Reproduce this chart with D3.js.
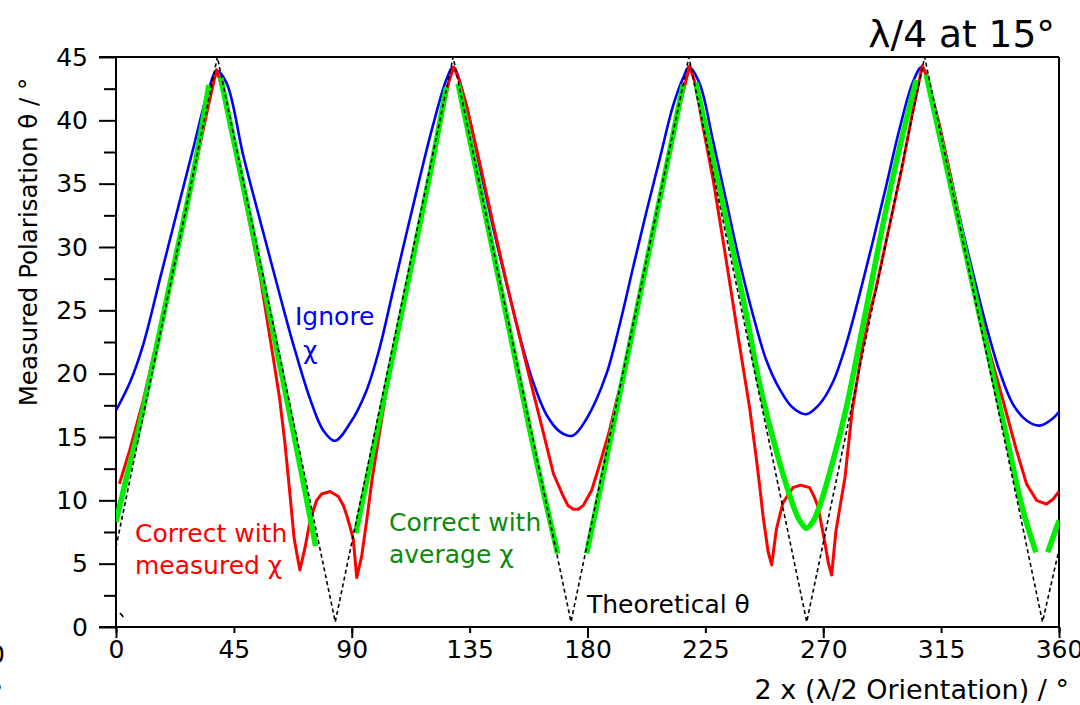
<!DOCTYPE html>
<html>
<head>
<meta charset="utf-8">
<script src="https://cdn.jsdelivr.net/npm/d3@7"></script>
<style>
  html, body { margin: 0; padding: 0; background: #fff; }
  svg { display: block; font-family: "DejaVu Sans", sans-serif; }
</style>
</head>
<body>
<svg id="chart" width="1080" height="705"></svg>
<script>
// ---------------- data ----------------
const xMajorTicks = [0, 90, 180, 270, 360];
const xLabelTicks = [0, 45, 90, 135, 180, 225, 270, 315, 360];
const yMajorTicks = [0, 5, 10, 15, 20, 25, 30, 35, 40, 45];
const yMinorTicks = [2.5, 7.5, 12.5, 17.5, 22.5, 27.5, 32.5, 37.5, 42.5];

// Theoretical θ (dashed black)
const theoretical = [[0,6.3],[38.7,45],[83.7,0.4],[128.7,45],[173.7,0.4],[218.7,45],[263.7,0.4],[308.7,45],[353.7,0.4],[360,6.1]];
const theoreticalStub = [[1.5,1.1],[2.8,0.8]];

// Ignore χ (blue)
const ignoreChi = [[0,17.1],[5.3,19.3],[10.4,22.3],[16.8,27.5],[23.2,32.7],[29.5,37.8],[35.3,42.4],[38.5,43.9],[42.3,42.9],[48.6,37.2],[55,32.1],[61.4,27.1],[67.7,22.3],[74.1,18.0],[79.2,15.5],[83.6,14.7],[89.4,16.1],[95.5,18.6],[100.6,22.0],[105.7,26.5],[110.8,31.0],[115.9,35.4],[121,39.6],[126.1,43.2],[128.7,44.2],[133.8,41.1],[138.9,36.3],[144,31.5],[149.1,27.1],[154.2,22.9],[159.3,19.3],[164.5,16.7],[169.6,15.4],[174.3,15.1],[179.8,16.5],[187.1,19.9],[192.2,23.8],[197.3,28.3],[202.4,32.7],[207.5,36.9],[212.6,41.1],[216.4,43.3],[218.8,44.2],[222.8,42.9],[227.9,38.4],[233,33.6],[238,28.9],[243.1,24.7],[248.2,21.1],[253.3,18.8],[258.4,17.3],[263.5,16.8],[268.6,17.6],[273.6,19.3],[278.7,22.3],[283.8,26.2],[288.9,30.4],[294,34.8],[299.1,39.3],[304.2,43.0],[307.6,44.2],[311.8,41.7],[316.9,37.2],[322,32.4],[327.1,28.0],[332.2,23.8],[337.3,20.2],[342.4,17.6],[347.6,16.3],[352.7,15.9],[357.8,16.5],[360,17.0]];

// Correct with measured χ (red)
const measuredChi = [[1.3,11.3],[5.3,14.0],[10.4,17.9],[16.8,23.6],[23.2,29.7],[29.5,35.6],[35.3,41.2],[38.4,44.0],[42.3,41.4],[48.6,34.5],[55,27.7],[60,21.3],[62.5,18.0],[64.5,14.5],[66.4,10.5],[68,7.0],[69.2,5.6],[70.2,4.5],[72.2,6.3],[74.2,8.5],[76.6,10.0],[78.5,10.5],[81.7,10.7],[84.9,10.3],[86.8,9.6],[88.1,8.8],[89.5,7.8],[90.6,6.9],[91.9,3.9],[93.8,5.6],[95.7,8.4],[97.8,11.7],[100.8,15.6],[103.3,18.8],[108.3,23.8],[113.4,29.0],[118.5,34.3],[123.6,39.5],[127,43],[128.9,44.2],[131,43.2],[133.8,41.2],[138.9,36.6],[144,31.8],[149.1,27.2],[154.2,22.8],[159.3,18.5],[162,16.3],[167,12.1],[170.8,10.3],[172.5,9.6],[174.6,9.3],[176.5,9.3],[178.4,9.6],[181.6,10.8],[184.6,12.8],[188.4,15.5],[191.1,17.9],[193.7,19.8],[197,23],[203,29],[209,35],[215,41],[219,44.3],[221,43.0],[224,39.6],[227.9,35.4],[233,28.9],[238,22.3],[241.9,17.3],[244.4,13.4],[245.8,11.0],[247,8.8],[248.9,6.0],[250.3,4.9],[252.1,7.7],[254.6,9.8],[258.4,11.0],[261.3,11.2],[264.8,11.0],[266.5,10.3],[268,9.5],[270.5,6.8],[272,5.0],[273.2,4.1],[274.8,7.5],[276.4,9.5],[278.3,11.8],[281,17.0],[284.5,21.5],[288,25],[290,26.6],[295,31.4],[300,36.2],[304,40.5],[307.8,44.3],[310,43.3],[311.8,41.7],[314.4,39.6],[318.2,36.0],[323.3,30.9],[328.4,26.2],[333.5,21.7],[338.6,17.9],[343.7,14.0],[347.6,11.3],[351.4,10.0],[355.2,9.7],[357.8,10.1],[360,10.7]];

// Correct with average χ (green) — drawn as separate pieces
const averageChi1 = [[0,8.3],[4.1,11.9],[8.5,15.5],[11.1,17.9],[17,23.6],[23.2,29.6],[29.5,35.8],[35.5,42.8]];
const averageChi2 = [[39.9,43.4],[50,33.4],[60,23.3],[70,13.0],[76.2,6.4]];
const averageChi3 = [[91.5,7.4],[100,15.8],[110,25.8],[120,35.9],[126.1,42.6]];
const averageChi4 = [[130.6,42.9],[140,33.6],[150,23.6],[160,13.6],[168.6,5.8]];
const averageChi5 = [[179.7,5.8],[190,16.1],[200,26.2],[210,36.2],[216.5,42.8]];
const averageChi6 = [[221.3,43.0],[227.9,36.9],[234.2,31.0],[240.6,24.7],[245.9,19.0],[252.5,13.6],[258.5,9.6],[261,8.4],[263.6,7.8],[266,8.3],[268.7,9.6],[273.7,13.1],[279,17.5],[283.8,22.4],[288.9,27.7],[294,33],[299.1,37.8],[305.5,43.2]];
const averageChi7 = [[309.3,43.6],[320,33.6],[330,24.3],[340,15.0],[346,9.4],[351.2,5.9]];
const averageChi8 = [[355.7,5.9],[360,8.4]];
const averageChiPieces = [averageChi1, averageChi2, averageChi3, averageChi4, averageChi5, averageChi6, averageChi7, averageChi8];

// ---------------- layout ----------------
const svg = d3.select("#chart");
const L = 116, R = 1059, T = 57, B = 627;
const x = d3.scaleLinear().domain([0, 360]).range([L, R]);
const y = d3.scaleLinear().domain([0, 45]).range([B, T]);
const FS = 25;

// axes (ticks)
const gx = svg.append("g").attr("transform", `translate(0,${B})`);
gx.call(d3.axisBottom(x).tickValues(xLabelTicks).tickSize(6).tickPadding(7).tickFormat(d3.format("d")));
const gx2 = svg.append("g").attr("transform", `translate(0,${B})`);
gx2.call(d3.axisBottom(x).tickValues(xMajorTicks).tickSize(11).tickFormat(""));

const gy = svg.append("g").attr("transform", `translate(${L},0)`);
gy.call(d3.axisLeft(y).tickValues(yMajorTicks).tickSize(17).tickPadding(11).tickFormat(d3.format("d")));
const gy2 = svg.append("g").attr("transform", `translate(${L},0)`);
gy2.call(d3.axisLeft(y).tickValues(yMinorTicks).tickSize(12).tickFormat(""));

[gx, gx2, gy, gy2].forEach(g => {
  g.select(".domain").remove();
  g.selectAll(".tick line").attr("stroke", "#000").attr("stroke-width", 2);
  g.selectAll(".tick text").attr("fill", "#000").style("font-size", FS + "px").style("font-family", "DejaVu Sans");
});

// frame
const frame = svg.append("g").attr("fill", "none").attr("stroke", "#000").attr("stroke-width", 2);
frame.append("line").attr("x1", L - 17).attr("x2", R).attr("y1", T).attr("y2", T);
frame.append("line").attr("x1", R).attr("x2", R).attr("y1", T).attr("y2", B);
frame.append("line").attr("x1", L).attr("x2", L).attr("y1", T).attr("y2", B + 1);
frame.append("line").attr("x1", L - 17).attr("x2", R + 1).attr("y1", B).attr("y2", B);

// series
const clip = svg.append("clipPath").attr("id", "plotclip").append("rect")
  .attr("x", L).attr("y", T - 1).attr("width", R - L).attr("height", B - T + 1);
const plot = svg.append("g").attr("clip-path", "url(#plotclip)");

const lineSmooth = d3.line().x(d => x(d[0])).y(d => y(d[1])).curve(d3.curveCatmullRom.alpha(0.5));
const lineLin = d3.line().x(d => x(d[0])).y(d => y(d[1]));

plot.append("path").datum(ignoreChi).attr("d", lineSmooth)
  .attr("fill", "none").attr("stroke", "#0000ff").attr("stroke-width", 2.6).attr("stroke-linejoin", "round");
plot.append("path").datum(measuredChi).attr("d", lineLin)
  .attr("fill", "none").attr("stroke", "#ff0000").attr("stroke-width", 3).attr("stroke-linejoin", "round");
averageChiPieces.forEach(seg => {
  plot.append("path").datum(seg).attr("d", lineSmooth)
    .attr("fill", "none").attr("stroke", "#00ee00").attr("stroke-width", 5.5).attr("stroke-linejoin", "round");
});
plot.append("path").datum(theoretical).attr("d", lineLin)
  .attr("fill", "none").attr("stroke", "#000").attr("stroke-width", 1.6).attr("stroke-dasharray", "4,3");
svg.append("path").datum(theoreticalStub).attr("d", lineLin)
  .attr("fill", "none").attr("stroke", "#000").attr("stroke-width", 1.6);

// annotations
function txt(s, px, py, color, anchor, size) {
  svg.append("text").attr("x", px).attr("y", py).attr("fill", color)
    .attr("text-anchor", anchor || "start").style("font-size", (size || FS) + "px").text(s);
}
txt("Ignore", 295, 325, "#0000ff");
txt("χ", 303, 359, "#0000ff");
txt("Correct with", 135, 542, "#ff0000");
txt("measured χ", 135, 574, "#ff0000");
txt("Correct with", 389, 531, "#0a8a0a");
txt("average χ", 389, 563, "#0a8a0a");
txt("Theoretical θ", 587, 613, "#000");

// titles
txt("λ/4 at 15°", 1055, 47, "#000", "end", 37.5);
txt("2 x (λ/2 Orientation) / °", 1069, 699, "#000", "end", 27);
svg.append("text").attr("transform", "translate(37,242) rotate(-90)")
  .attr("text-anchor", "middle").attr("fill", "#000").style("font-size", "24.5px")
  .text("Measured Polarisation θ / °");

// cropped remnants at the left edge
txt("0", 5, 663, "#000", "end", 25);
txt("°", 3, 702, "#000", "end", 25);
</script>
</body>
</html>
